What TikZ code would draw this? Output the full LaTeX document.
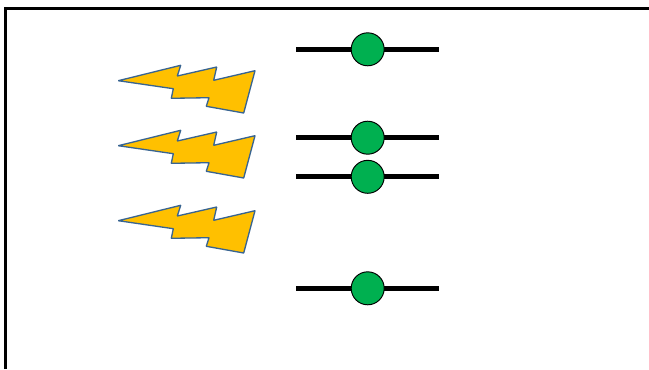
\documentclass[tikz,border=0pt]{standalone}
\definecolor{boltfill}{RGB}{255,192,0}
\definecolor{boltline}{RGB}{56,100,145}
\definecolor{dotgreen}{RGB}{0,176,80}
\tikzset{
  bar/.style={line width=3pt,black},
  dot/.style={circle,draw=black,line width=0.55pt,fill=dotgreen,inner sep=0pt,minimum size=0.66cm},
  bolt/.style={draw=boltline,fill=boltfill,line width=0.75pt,line join=bevel},
}
\begin{document}
\begin{tikzpicture}[x=0.02cm,y=-0.02cm]
\useasboundingbox (0,0) rectangle (649,369);
\fill[white] (0,0) rectangle (649,369);

\draw[line width=1.5pt,line cap=butt] (5.3,369) -- (5.3,8.5) -- (649,8.5);

\foreach \shft in {0,65,140}
  \draw[bolt,yshift=-0.02cm*\shft] (118.3,80.7) -- (180.7,65.3) -- (177.3,76) -- (216.7,67)
    -- (213.7,80.3) -- (255,70.7) -- (243.7,113) -- (206.3,106.3)
    -- (209,97.7) -- (171.3,98.3) -- (173.3,88.7) -- cycle;

\foreach \nm/\ypos in {a/49.3,b/137.7,c/176.8,d/288.3} {
  \coordinate (\nm l) at (296,\ypos);
  \coordinate (\nm r) at (439,\ypos);
  \draw[bar] (\nm l) -- (\nm r);
  \node[dot] (\nm) at (367.7,\ypos) {};
}
\end{tikzpicture}
\end{document}
